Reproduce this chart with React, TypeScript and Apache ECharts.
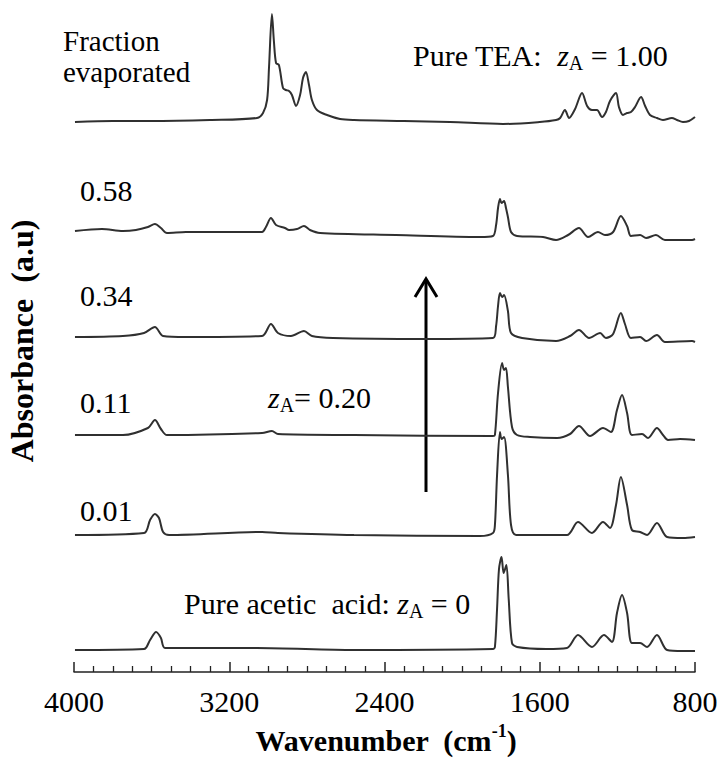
import React, { useEffect, useRef } from 'react';
import * as echarts from 'echarts';

const FONT = 'Liberation Serif, Times New Roman, serif';

// x axis tick labels (wavenumber, cm-1), reversed axis
const xTicks = [4000, 3200, 2400, 1600, 800];

// spectra names, from top to bottom
const spectrumNames = ['Pure TEA', '0.58', '0.34', '0.11', '0.01', 'Pure acetic acid'];
// vertical offsets of each trace (a.u.)
const offsets = [5.51, 4.42, 3.36, 2.37, 1.37, 0.23];

// [wavenumber, absorbance relative to own baseline]
const teaSpectrum = [
  [3995, -0.01], [3800, 0], [3610, 0], [3300, 0.01], [3057, 0.03], [3026, 0.08], [3005, 0.21],
  [2995, 0.54], [2980, 1.07], [2970, 0.8], [2959, 0.58], [2944, 0.56], [2923, 0.33], [2908, 0.31],
  [2892, 0.3], [2877, 0.26], [2856, 0.15], [2835, 0.26], [2820, 0.43], [2805, 0.49], [2789, 0.36],
  [2774, 0.21], [2748, 0.11], [2696, 0.06], [2629, 0.02], [2557, 0.01], [2300, 0], [2062, -0.01],
  [1789, -0.03], [1600, -0.01], [1516, 0.01], [1495, 0.03], [1470, 0.11], [1449, 0.03], [1418, 0.12],
  [1382, 0.28], [1356, 0.15], [1331, 0.11], [1305, 0.11], [1279, 0.04], [1259, 0.09], [1238, 0.2],
  [1207, 0.28], [1192, 0.14], [1171, 0.06], [1150, 0.08], [1130, 0.09], [1109, 0.14], [1078, 0.24],
  [1057, 0.15], [1032, 0.06], [996, 0.03], [965, 0.01], [919, 0.03], [893, 0.01], [862, -0.01],
  [831, 0], [800, 0.04],
];

const f058Spectrum = [
  [3995, -0.01], [3856, 0.01], [3748, -0.01], [3681, 0], [3619, 0.03], [3583, 0.06], [3552, 0.02],
  [3521, -0.03], [3423, -0.02], [3031, -0.02], [3011, 0.03], [2985, 0.12], [2959, 0.05], [2913, 0.02],
  [2892, 0], [2851, 0.01], [2815, 0.04], [2784, 0], [2732, -0.03], [2341, -0.05], [1908, -0.07],
  [1841, -0.06], [1825, 0.05], [1815, 0.22], [1805, 0.31], [1797, 0.27], [1784, 0.29], [1774, 0.22],
  [1764, 0.13], [1748, -0.02], [1717, -0.06], [1583, -0.07], [1516, -0.1], [1454, -0.05], [1398, 0.02],
  [1351, -0.07], [1300, -0.02], [1264, -0.05], [1222, -0.02], [1182, 0.14], [1150, 0.04], [1130, -0.06],
  [1083, -0.05], [1052, -0.08], [1001, -0.05], [955, -0.1], [815, -0.1], [800, -0.09],
];

const f034Spectrum = [
  [3995, -0.01], [3748, 0], [3639, 0.03], [3583, 0.09], [3541, 0], [3423, -0.01], [3031, 0],
  [2985, 0.12], [2949, 0.03], [2882, 0], [2815, 0.05], [2774, 0], [2665, -0.02], [2191, -0.03],
  [1841, -0.02], [1825, 0.1], [1815, 0.3], [1805, 0.43], [1794, 0.39], [1784, 0.41], [1764, 0.25],
  [1748, 0.03], [1691, -0.02], [1516, -0.05], [1444, 0], [1398, 0.06], [1346, -0.02], [1289, 0.03],
  [1259, -0.02], [1222, 0.02], [1182, 0.23], [1161, 0.12], [1130, -0.02], [1083, -0.01], [1052, -0.05],
  [996, 0.01], [955, -0.06], [815, -0.05], [800, -0.06],
];

const f011Spectrum = [
  [3995, 0], [3748, 0], [3619, 0.07], [3583, 0.15], [3552, 0.06], [3521, 0], [3031, 0.02], [2980, 0.04],
  [2949, 0.01], [2557, 0], [1841, -0.01], [1831, 0], [1815, 0.42], [1794, 0.72], [1784, 0.65],
  [1774, 0.67], [1764, 0.48], [1743, 0.08], [1717, 0], [1650, -0.02], [1511, -0.03], [1444, 0.01],
  [1398, 0.09], [1341, -0.01], [1274, 0.07], [1233, 0.03], [1202, 0.25], [1176, 0.4], [1150, 0.22],
  [1125, 0], [1073, 0.01], [1042, -0.03], [996, 0.07], [965, 0], [939, -0.05], [877, -0.04], [800, -0.05],
];

const f001Spectrum = [
  [3995, 0], [3639, 0.02], [3608, 0.15], [3583, 0.21], [3562, 0.17], [3541, 0.03], [3510, 0],
  [3031, 0.03], [2949, 0.02], [2557, 0], [1908, -0.01], [1841, 0.02], [1831, 0.1], [1820, 0.6],
  [1805, 1.03], [1797, 0.96], [1784, 0.98], [1764, 0.6], [1748, 0.1], [1722, 0], [1460, 0],
  [1403, 0.13], [1331, 0.02], [1274, 0.13], [1238, 0.07], [1207, 0.3], [1182, 0.58], [1150, 0.3],
  [1125, 0.05], [1083, 0.03], [1047, 0], [996, 0.12], [944, -0.02], [862, -0.03], [800, -0.02],
];

const aceticSpectrum = [
  [3995, -0.01], [3639, 0], [3608, 0.09], [3577, 0.17], [3552, 0.11], [3531, 0.01], [3057, 0.01],
  [2557, -0.01], [1841, 0], [1831, 0.02], [1820, 0.4], [1810, 0.8], [1797, 0.92], [1786, 0.76],
  [1772, 0.84], [1760, 0.5], [1743, 0.06], [1717, 0.02], [1567, 0], [1460, 0.01], [1403, 0.14],
  [1331, 0.02], [1269, 0.14], [1228, 0.07], [1202, 0.36], [1176, 0.54], [1150, 0.36], [1125, 0.06],
  [1083, 0.06], [1047, 0.02], [996, 0.14], [944, -0.01], [862, -0.02], [800, -0.02],
];

const spectra = [teaSpectrum, f058Spectrum, f034Spectrum, f011Spectrum, f001Spectrum, aceticSpectrum];

const fractionLabels = ['0.58', '0.34', '0.11', '0.01'];

const txt = (x: number, y: number, text: string, size = 30, extra: any = {}) => ({
  type: 'text',
  x,
  y,
  silent: true,
  style: {
    text,
    fontFamily: FONT,
    fontSize: size,
    fill: '#000',
    align: 'left',
    verticalAlign: 'middle',
    textAlign: 'left',
    textVerticalAlign: 'middle',
    ...extra,
  },
});

const zRich = (size: number) => ({
  n: { fontFamily: FONT, fontSize: size, lineHeight: 36, fill: '#000' },
  z: { fontFamily: FONT, fontSize: size, fontStyle: 'italic', lineHeight: 36, fill: '#000' },
  s: { fontFamily: FONT, fontSize: Math.round(size * 0.65), lineHeight: 20, verticalAlign: 'bottom', fill: '#000' },
});

export default function App() {
  const ref = useRef<HTMLDivElement>(null);

  useEffect(() => {
    if (!ref.current) return;
    const chart = echarts.init(ref.current, undefined, { renderer: 'svg' });

    const labelY = [190, 295, 402, 510];

    const graphic: any[] = [
      txt(63, 41, 'Fraction', 29),
      txt(63, 72, 'evaporated', 29),
      txt(413, 55, '{n|Pure TEA:  }{z|z}{s|A}{n| = 1.00}', 30, { rich: zRich(30) }),
      ...fractionLabels.map((l, i) => txt(80, labelY[i], l, 30)),
      txt(268, 397, '{z|z}{s|A}{n|= 0.20}', 30, { rich: zRich(30) }),
      txt(184, 603, '{n|Pure acetic  acid: }{z|z}{s|A}{n| = 0}', 30, { rich: zRich(30) }),
      {
        type: 'line',
        silent: true,
        shape: { x1: 426, y1: 492, x2: 426, y2: 281 },
        style: { stroke: '#000', lineWidth: 3 },
      },
      {
        type: 'polyline',
        silent: true,
        shape: { points: [[415, 297], [426, 279], [437, 297]] },
        style: { stroke: '#000', lineWidth: 3, fill: null },
      },
      {
        type: 'text',
        x: 386,
        y: 740,
        silent: true,
        style: {
          text: '{b|Wavenumber  (cm}{p|-1}{b|)}',
          align: 'center',
          verticalAlign: 'middle',
          textAlign: 'center',
          textVerticalAlign: 'middle',
          rich: {
            b: { fontFamily: FONT, fontSize: 30, fontWeight: 'bold', lineHeight: 36, fill: '#000' },
            p: { fontFamily: FONT, fontSize: 18, fontWeight: 'bold', lineHeight: 18, verticalAlign: 'top', fill: '#000' },
          },
        },
      },
      {
        type: 'text',
        x: 22,
        y: 341,
        rotation: Math.PI / 2,
        silent: true,
        style: {
          text: 'Absorbance  (a.u)',
          fontFamily: FONT,
          fontSize: 32,
          fontWeight: 'bold',
          fill: '#000',
          align: 'center',
          verticalAlign: 'middle',
          textAlign: 'center',
          textVerticalAlign: 'middle',
        },
      },
    ];

    chart.setOption({
      animation: false,
      backgroundColor: '#ffffff',
      textStyle: { fontFamily: FONT },
      grid: { left: 74, right: 27, top: 12, bottom: 104, containLabel: false },
      xAxis: {
        type: 'value',
        inverse: true,
        min: xTicks[xTicks.length - 1],
        max: xTicks[0],
        interval: xTicks[0] - xTicks[1],
        axisLine: { show: true, onZero: false, lineStyle: { color: '#222', width: 1.5 } },
        axisTick: { show: true, inside: true, length: 10, lineStyle: { color: '#222', width: 1.5 } },
        minorTick: { show: true, splitNumber: 8, length: 6, lineStyle: { color: '#222', width: 1.3 } },
        axisLabel: {
          margin: 14,
          fontFamily: FONT,
          fontSize: 30,
          color: '#000',
          formatter: (v: number) => String(v),
        },
        splitLine: { show: false },
        minorSplitLine: { show: false },
      },
      yAxis: { type: 'value', min: 0, max: 6.6, show: false },
      series: spectra.map((s, i) => ({
        type: 'line',
        name: spectrumNames[i],
        data: s.map(([w, a]) => [w, +(a + offsets[i]).toFixed(3)]),
        showSymbol: false,
        symbol: 'none',
        smooth: 0.3,
        silent: true,
        lineStyle: { color: '#303030', width: 2 },
      })),
      graphic,
    });

    return () => chart.dispose();
  }, []);

  return (
    <div
      ref={ref}
      style={{ position: 'absolute', left: 0, top: 0, width: 722, height: 776, background: '#fff' }}
    />
  );
}
